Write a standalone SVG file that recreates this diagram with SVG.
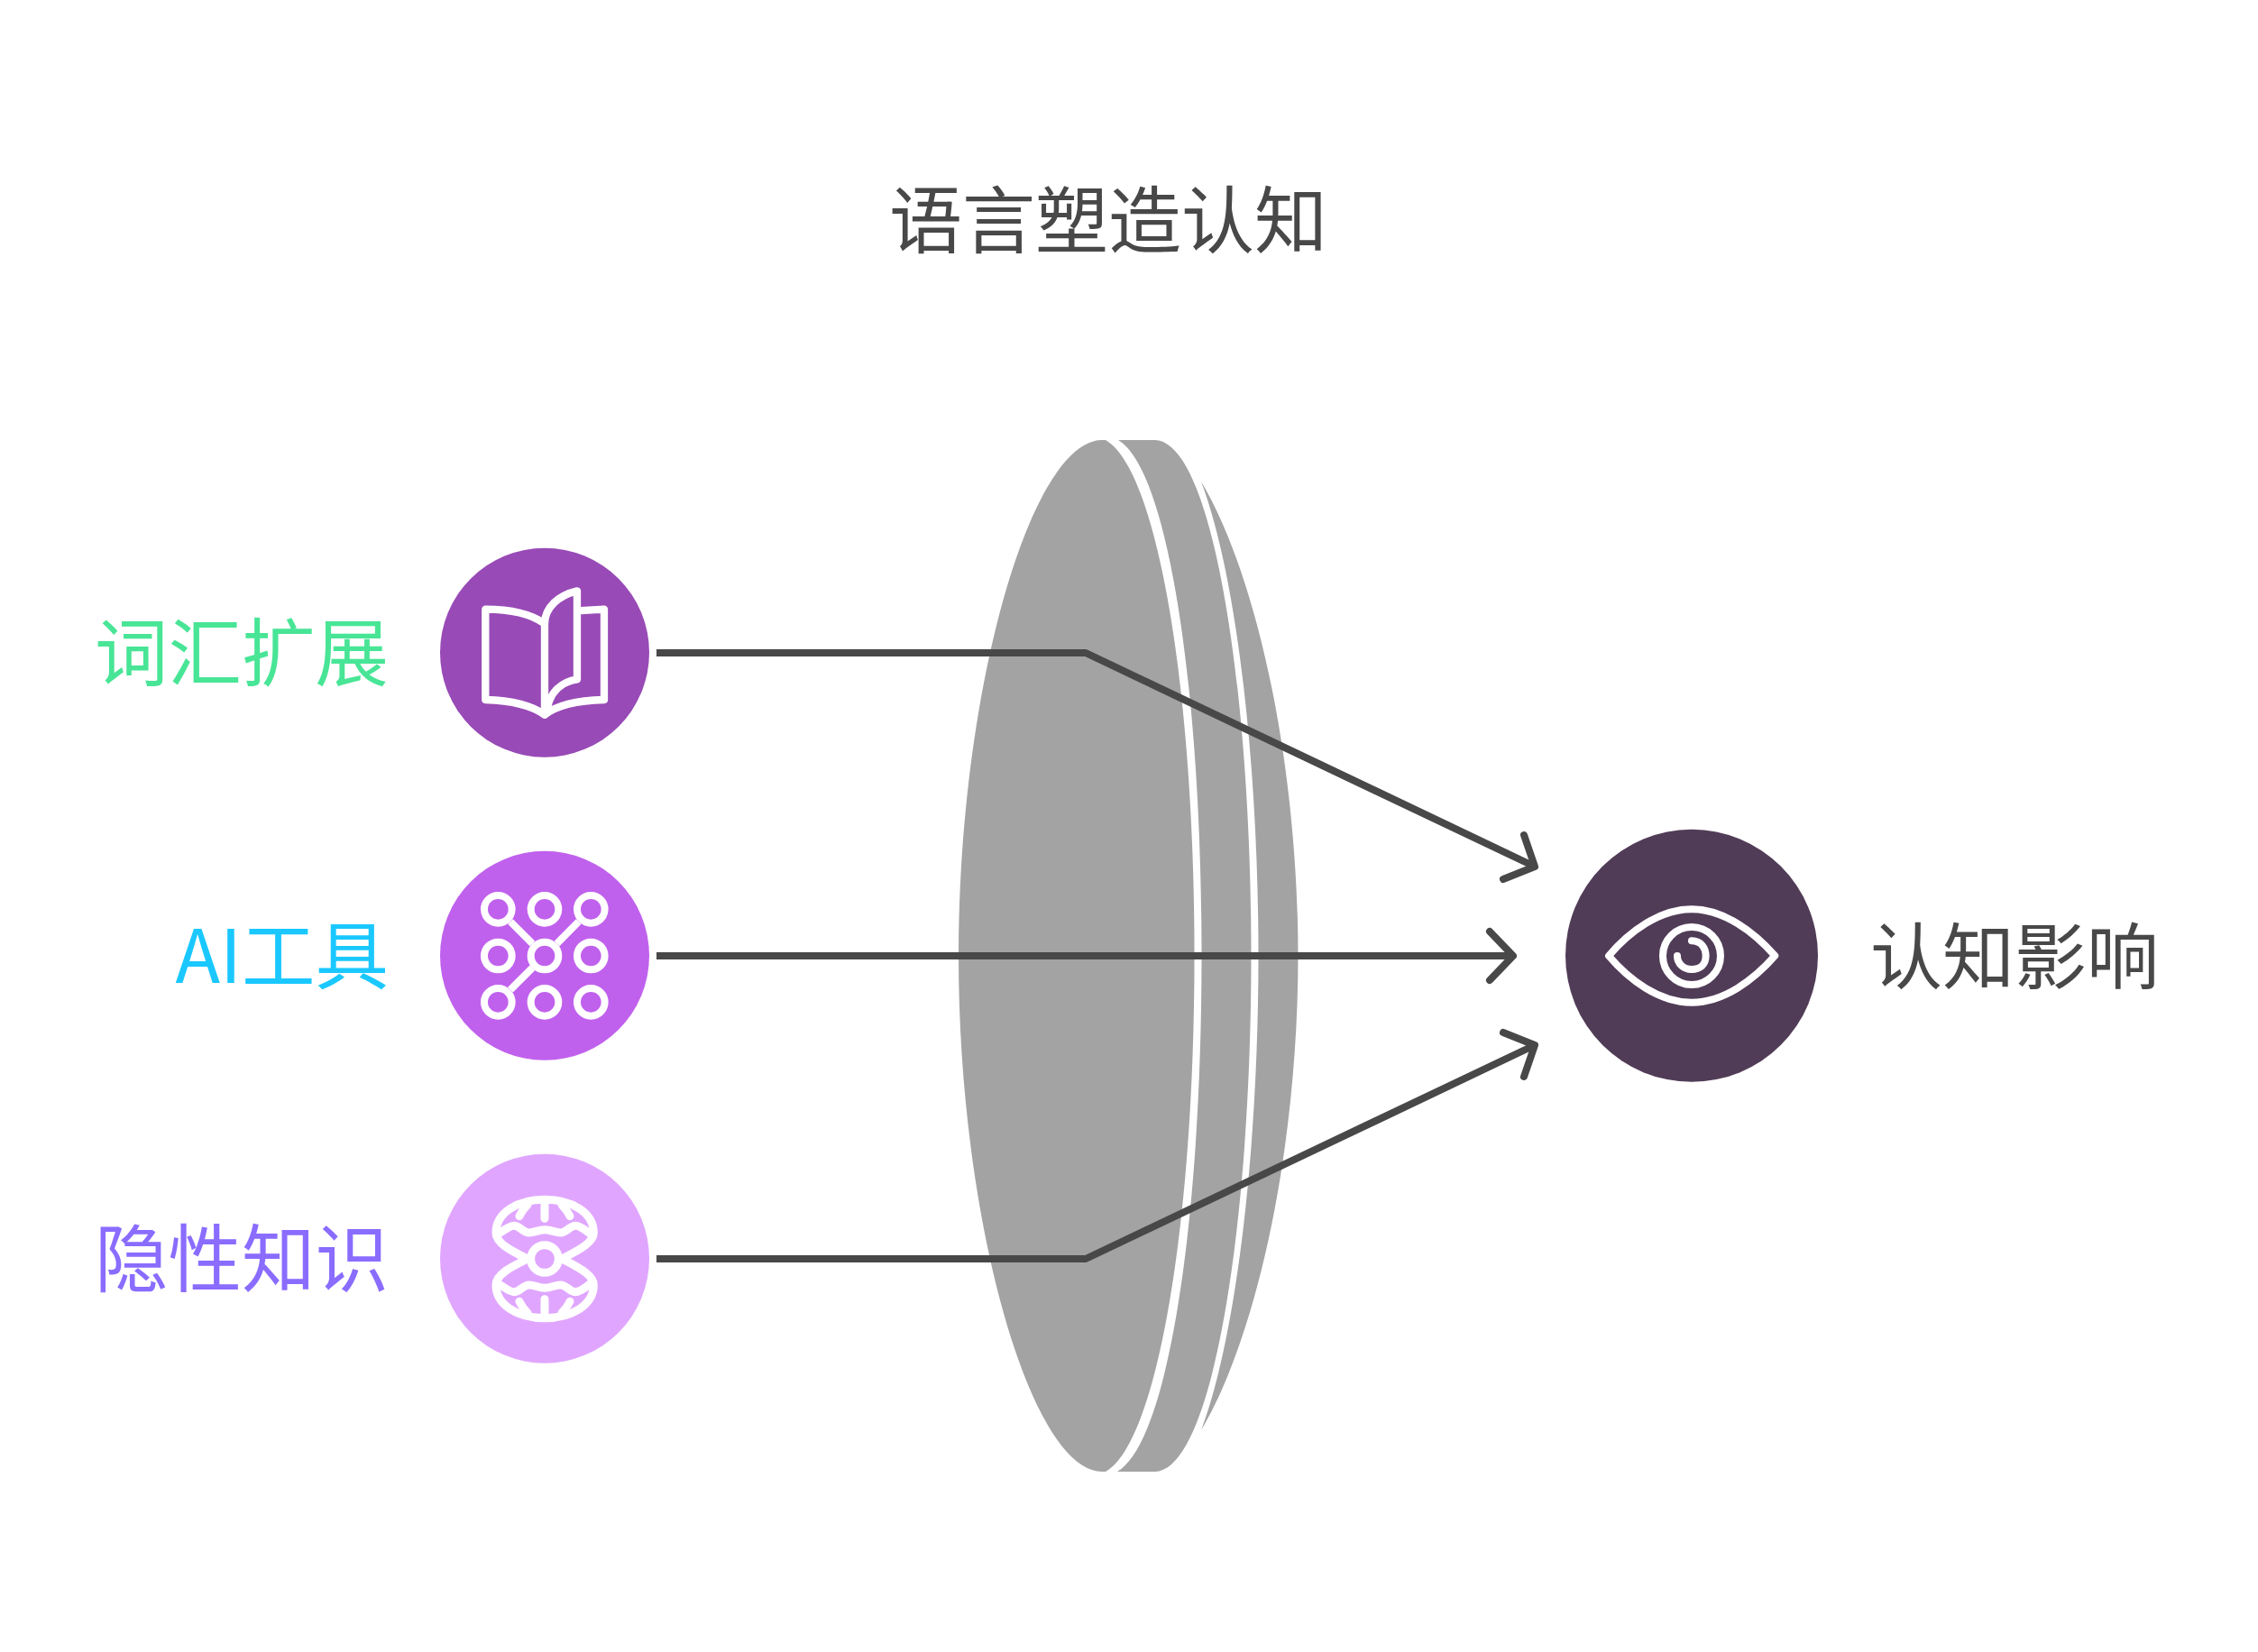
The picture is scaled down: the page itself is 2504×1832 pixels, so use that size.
<svg xmlns="http://www.w3.org/2000/svg" width="2504" height="1832" viewBox="0 0 2504 1832">
<style>
text{font-family:"Noto Sans CJK SC","Liberation Sans",sans-serif;font-size:80px;font-weight:400;fill:#484848}
.l{font-size:81.5px}
.i{fill:none;stroke:#fff;stroke-width:24;stroke-linecap:round;stroke-linejoin:round}
.c{fill:none;stroke:#484848;stroke-width:8;stroke-linecap:butt;stroke-linejoin:round}
.h{fill:none;stroke:#484848;stroke-width:8;stroke-linecap:round;stroke-linejoin:round}
</style>
<rect width="2504" height="1832" fill="#fff"/>
<text x="1229" y="274" text-anchor="middle" style="font-size:81px">语言塑造认知</text>
<g id="lens" fill="#a3a3a3">
<path d="M1222,488C1144,488 1063,763 1063,1060C1063,1357 1144,1632 1222,1632L1226,1632C1283,1600 1324.5,1357 1324.5,1060C1324.5,763 1283,520 1226,488Z"/>
<path d="M1240,488L1281,488C1345,490 1387.5,763 1387.5,1060C1387.5,1357 1345,1630 1281,1632L1239,1632C1295,1600 1332.5,1357 1332.5,1060C1332.5,763 1295,520 1240,488Z"/>
<path d="M1332,534C1395,640 1439.5,850 1439.5,1060C1439.5,1270 1395,1480 1332,1586C1372,1480 1395.5,1270 1395.5,1060C1395.5,850 1372,640 1332,534Z"/>
</g>
<g id="connectors">
<path class="c" d="M728,724L1204,724L1702,961"/>
<path class="h" d="M1690,926L1702,961L1667,975"/>
<path class="c" d="M728,1060L1678,1060"/>
<path class="h" d="M1652,1033L1678,1060L1652,1087"/>
<path class="c" d="M728,1396L1204,1396L1702,1159"/>
<path class="h" d="M1667,1145L1702,1159L1690,1194"/>
</g>
<g id="node-vocab">
<circle cx="604" cy="723.7" r="116" fill="#984ab6"/>
<g transform="translate(470,590) scale(.3333)" class="i" style="stroke-width:25">
<path d="M402,608C350,570 270,560 205,558L205,257C270,257 350,268 402,305Z"/>
<path d="M402,608C450,570 530,560 600,558L600,257L510,262"/>
<path d="M402,305C402,250 450,210 510,196L510,490C460,498 420,530 410,590"/>
</g>
<text class="l" x="431" y="754" text-anchor="end" style="fill:#48e596">词汇扩展</text>
</g>
<g id="node-ai">
<circle cx="604" cy="1059.8" r="116" fill="#c061ed"/>
<g transform="translate(470,925) scale(.3333)" class="i">
<circle cx="247" cy="250" r="46"/><circle cx="402" cy="250" r="46"/><circle cx="556" cy="250" r="46"/>
<circle cx="247" cy="405" r="46"/><circle cx="402" cy="405" r="46"/><circle cx="556" cy="405" r="46"/>
<circle cx="247" cy="559" r="46"/><circle cx="402" cy="559" r="46"/><circle cx="556" cy="559" r="46"/>
<path stroke-linecap="butt" d="M288,291L361,364M515,291L443,364M288,518L361,445"/>
</g>
<text class="l" x="431" y="1090" text-anchor="end" style="fill:#1ac8ff">AI工具</text>
</g>
<g id="node-tacit">
<circle cx="604" cy="1395.7" r="116" fill="#e0a6ff"/>
<g transform="translate(470,1262) scale(.3333)" class="i" style="stroke-width:27">
<circle cx="402" cy="402" r="46"/>
<path d="M345,402C290,375 240,350 240,315C240,250 310,205 402,205C495,205 565,250 565,315C565,350 510,375 460,402"/>
<path d="M250,318C270,305 285,292 300,292C320,292 330,315 350,315C370,315 380,305 402,305C425,305 435,315 455,315C475,315 485,292 505,292C520,292 535,305 553,318"/>
<path d="M402,215L402,268M318,260C325,245 335,232 345,222M486,260C479,245 469,232 459,222"/>
<g transform="matrix(1 0 0 -1 0 804)">
<path d="M345,402C290,375 240,350 240,315C240,250 310,205 402,205C495,205 565,250 565,315C565,350 510,375 460,402"/>
<path d="M250,318C270,305 285,292 300,292C320,292 330,315 350,315C370,315 380,305 402,305C425,305 435,315 455,315C475,315 485,292 505,292C520,292 535,305 553,318"/>
<path d="M402,215L402,268M318,260C325,245 335,232 345,222M486,260C479,245 469,232 459,222"/>
</g>
</g>
<text class="l" x="431" y="1426" text-anchor="end" style="fill:#8a6cff">隐性知识</text>
</g>
<g id="node-impact">
<circle cx="1876" cy="1059.8" r="140" fill="#513c57"/>
<g transform="translate(1640,900) scale(.3333)" class="i">
<path d="M432,480C500,400 600,325 708,325C815,325 915,400 985,480C915,560 815,635 708,635C600,635 500,560 432,480Z"/>
<circle cx="708" cy="480" r="96"/>
<path d="M708,430C740,430 755,455 755,480C755,510 735,525 708,525C680,525 660,505 660,480"/>
</g>
<text x="2074" y="1090">认知影响</text>
</g>
</svg>
